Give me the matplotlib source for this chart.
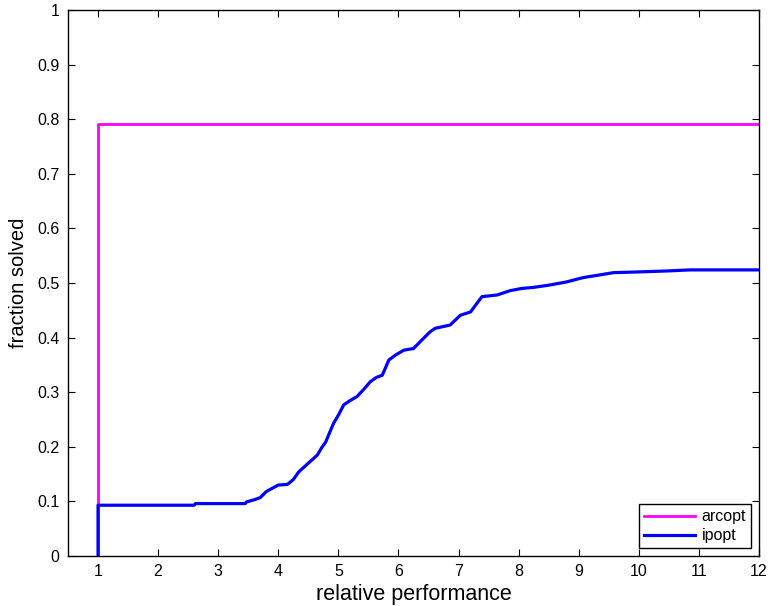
import matplotlib
matplotlib.use('Agg')
import matplotlib.pyplot as plt
from matplotlib.ticker import FuncFormatter

# data
arcopt_x = [1, 1, 12]
arcopt_y = [0, 0.791, 0.791]

ipopt_x = [1, 1, 2.6, 2.62, 3.45, 3.47, 3.6, 3.7, 3.8, 3.9, 4.0, 4.15, 4.25,
           4.34, 4.45, 4.55, 4.65, 4.72, 4.79, 4.85, 4.92, 5.0, 5.09, 5.2,
           5.31, 5.42, 5.53, 5.63, 5.73, 5.84, 5.95, 6.09, 6.25, 6.42, 6.52,
           6.61, 6.86, 7.03, 7.20, 7.3, 7.39, 7.64, 7.86, 8.05, 8.25, 8.5,
           8.80, 8.97, 9.08, 9.36, 9.58, 9.91, 10.46, 10.85, 12]
ipopt_y = [0, 0.093, 0.093, 0.096, 0.096, 0.099, 0.103, 0.107, 0.118, 0.124,
           0.130, 0.131, 0.140, 0.154, 0.165, 0.175, 0.185, 0.198, 0.209,
           0.225, 0.243, 0.258, 0.277, 0.285, 0.292, 0.305, 0.319, 0.327,
           0.331, 0.359, 0.368, 0.377, 0.380, 0.399, 0.410, 0.417, 0.423,
           0.441, 0.447, 0.462, 0.475, 0.478, 0.486, 0.490, 0.492, 0.496,
           0.502, 0.507, 0.510, 0.515, 0.519, 0.520, 0.522, 0.524, 0.524]

plt.rcParams['font.family'] = ['Liberation Sans', 'DejaVu Sans']

fig = plt.figure(figsize=(7.7, 6.06), dpi=100)
ax = fig.add_axes([0.0883, 0.0825, 0.8974, 0.901])

ax.plot(arcopt_x, arcopt_y, color='#ff00ff', lw=2, label='arcopt')
ax.plot(ipopt_x, ipopt_y, color='#0000ff', lw=2.3, label='ipopt')

ax.set_xlim(0.5, 12)
ax.set_ylim(0, 1)
ax.set_xticks(range(1, 13))
ax.set_yticks([i / 10 for i in range(11)])
ax.yaxis.set_major_formatter(FuncFormatter(lambda v, p: '%g' % v))
ax.tick_params(direction='in', top=True, right=True, length=5, width=0.8,
               labelsize=11.5, pad=6)
for s in ax.spines.values():
    s.set_linewidth(1.0)

ax.set_xlabel('relative performance', fontsize=15.5, labelpad=3)
ax.set_ylabel('fraction solved', fontsize=14.5, labelpad=7)

leg = ax.legend(loc='lower right', fontsize=11.5, fancybox=False, framealpha=1,
                edgecolor='black', handlelength=3.2, borderaxespad=0.5,
                handletextpad=0.4, labelspacing=0.25, borderpad=0.3)
leg.get_frame().set_linewidth(1.0)

fig.savefig('out.png', dpi=100)
